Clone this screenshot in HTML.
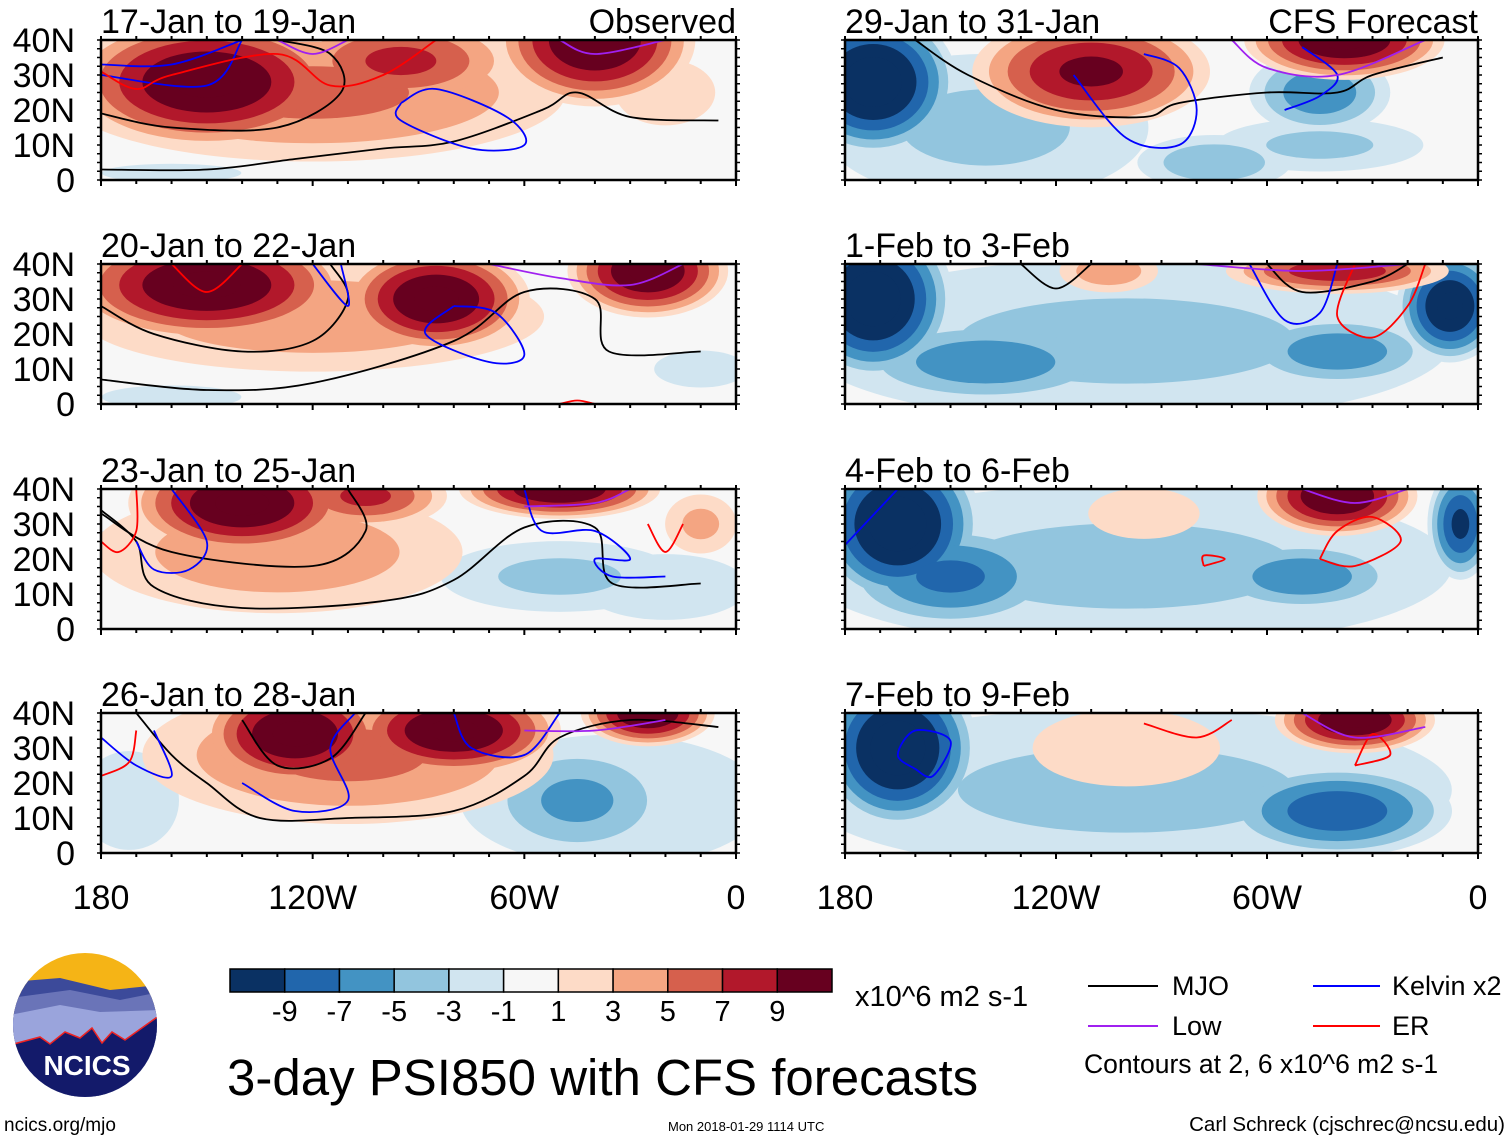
<!DOCTYPE html>
<html><head><meta charset="utf-8"><style>
body{margin:0;background:#fff;}
svg text{font-family:"Liberation Sans",sans-serif;fill:#000;}
</style></head><body>
<svg id="chart" width="1510" height="1141" viewBox="0 0 1510 1141" xmlns="http://www.w3.org/2000/svg">
<g id="panels"></g>
<g id="colorbar"></g>
<g>
<clipPath id="lc"><circle cx="85" cy="1025" r="72"/></clipPath>
<g clip-path="url(#lc)">
<rect x="10" y="950" width="150" height="150" fill="#f5b416"/>
<path d="M10 982 L60 978 L110 990 L160 985 L160 1100 L10 1100Z" fill="#3c4a9a"/>
<path d="M10 998 L70 990 L120 1000 L160 992 L160 1100 L10 1100Z" fill="#6a74b8"/>
<path d="M10 1015 L60 1005 L100 1012 L160 1010 L160 1100 L10 1100Z" fill="#9aa4dc"/>
<path d="M10 1045 L40 1037 L50 1044 L65 1032 L80 1038 L92 1028 L102 1043 L112 1032 L125 1040 L160 1015 L160 1100 L10 1100Z" fill="#131a6a" stroke="#e22" stroke-width="1.5"/>
</g>
<text x="87" y="1075" text-anchor="middle" font-size="28" font-weight="bold" style="fill:#fff">NCICS</text>
</g>
<text x="4" y="1131" font-size="19">ncics.org/mjo</text>
<text x="227" y="1095" font-size="51">3-day PSI850 with CFS forecasts</text>
<text x="855" y="1006" font-size="29">x10^6 m2 s-1</text>
<text x="668" y="1131" font-size="13">Mon 2018-01-29 1114 UTC</text>
<text x="1505" y="1131" font-size="20.5" text-anchor="end">Carl Schreck (cjschrec@ncsu.edu)</text>
<g>
<g><line x1="1088" y1="986" x2="1158" y2="986" stroke="#000" stroke-width="2"/><text x="1172" y="995" font-size="27">MJO</text></g>
<g><line x1="1088" y1="1026" x2="1158" y2="1026" stroke="#a020f0" stroke-width="2"/><text x="1172" y="1035" font-size="27">Low</text></g>
<g><line x1="1313" y1="986" x2="1380" y2="986" stroke="#0000ff" stroke-width="2"/><text x="1392" y="995" font-size="27">Kelvin x2</text></g>
<g><line x1="1313" y1="1026" x2="1380" y2="1026" stroke="#ff0000" stroke-width="2"/><text x="1392" y="1035" font-size="27">ER</text></g>
<text x="1084" y="1073" font-size="26.5">Contours at 2, 6 x10^6 m2 s-1</text>
</g>
</svg>
<script>
const colors=["#0a3163","#2166ac","#4393c3","#92c5de","#d1e5f0","#f7f7f7","#fddbc7","#f4a582","#d6604d","#b2182b","#67001f"];
const cbLabels=["-9","-7","-5","-3","-1","1","3","5","7","9"];
const panelTitles=["17-Jan to 19-Jan","20-Jan to 22-Jan","23-Jan to 25-Jan","26-Jan to 28-Jan","29-Jan to 31-Jan","1-Feb to 3-Feb","4-Feb to 6-Feb","7-Feb to 9-Feb"];
const latTicks=["0","10N","20N","30N","40N"];
const lonTicks=["180","120W","60W","0"];
// blobs: [lonWest, lat, rxDeg, ryDeg, peakValue]
const blobs0=[[120,25,80,22,6],[150,28,42,20,12],[95,34,35,14,8],[40,40,30,20,12],[70,20,12,7,-2],[20,25,18,12,3],[160,2,30,4,-2]];
const blobs1=[[120,25,75,18,5],[150,34,42,17,12],[85,30,28,16,12],[25,38,24,14,12],[160,2,30,5,-2],[10,10,20,8,-2]];
const blobs2=[[130,22,60,20,5],[140,36,34,16,12],[105,38,25,10,8],[50,40,30,9,12],[50,15,40,12,-4],[20,12,30,12,-3],[10,30,12,10,4],[178,25,6,5,-2]];
const blobs3=[[110,28,65,22,6],[125,34,28,16,12],[80,35,32,14,12],[25,40,20,10,12],[45,15,30,18,-6],[35,15,55,24,-3],[172,15,18,18,-3]];
const blobs4=[[140,15,55,25,-4],[172,28,25,22,-13],[110,31,36,17,10],[38,40,30,12,12],[45,25,22,13,-7],[75,5,25,9,-5],[45,10,35,9,-4]];
const blobs5=[[100,18,110,28,-4],[172,30,24,24,-13],[140,12,42,13,-7],[105,38,16,7,5],[40,38,34,7,9],[8,28,16,17,-12],[40,15,30,11,-7]];
const blobs6=[[100,18,110,28,-4],[165,30,25,24,-13],[150,15,34,16,-8],[95,33,24,11,2],[40,38,24,12,12],[50,15,30,11,-7],[5,30,10,17,-10]];
const blobs7=[[100,18,110,28,-4],[165,30,24,24,-13],[100,30,34,14,3],[35,38,24,10,12],[40,12,35,14,-9]];
// lines: [type, [[lonWest,lat],...]]
const lines0=[["mjo",[[180,19],[160,15],[130,15],[112,25],[115,36],[130,40]]],["mjo",[[180,3],[150,3],[125,6],[100,9],[80,11],[55,20],[45,25],[30,18],[5,17]]],["kel",[[180,33],[160,33],[140,40]]],["kel",[[180,30],[150,27],[140,40]]],["kel",[[95,22],[85,26],[65,18],[60,10],[75,9],[95,17],[95,22]]],["er",[[180,31],[170,26],[160,30],[130,36],[115,27],[100,30],[85,40]]],["low",[[130,40],[120,36],[110,40]]],["low",[[50,40],[40,36],[20,40]]]];
const lines1=[["mjo",[[180,28],[165,20],[140,15],[120,18],[110,30],[115,40]]],["mjo",[[180,7],[150,4],[120,6],[80,18],[60,32],[40,30],[36,15],[10,15]]],["kel",[[120,40],[110,28],[112,40]]],["kel",[[80,28],[68,26],[60,14],[70,12],[88,20],[80,28]]],["er",[[160,40],[150,32],[140,40]]],["low",[[70,40],[50,36],[30,34],[15,40]]],["er",[[50,0],[45,1],[40,0]]]];
const lines2=[["mjo",[[180,34],[170,25],[165,12],[140,6],[100,8],[80,14],[60,29],[40,29],[35,13],[10,13]]],["mjo",[[180,33],[160,22],[120,18],[105,28],[110,40]]],["kel",[[160,40],[150,25],[155,17],[165,17],[170,25]]],["kel",[[60,40],[55,28],[40,28],[30,20],[40,20],[35,15],[20,15]]],["er",[[180,25],[175,22],[170,28],[170,40]]],["er",[[25,30],[20,22],[15,30]]],["low",[[60,35],[40,36],[30,40]]]];
const lines3=[["mjo",[[170,40],[160,28],[150,20],[135,10],[110,10],[80,12],[60,22],[50,33],[30,38],[5,36]]],["mjo",[[140,38],[130,25],[115,27],[105,40]]],["kel",[[180,33],[170,25],[160,22],[165,35]]],["kel",[[140,20],[125,12],[110,15],[115,30],[108,40]]],["kel",[[80,40],[75,30],[60,28],[50,40]]],["er",[[180,22],[172,26],[170,35]]],["low",[[60,35],[40,35],[20,38]]]];
const lines4=[["mjo",[[160,40],[145,30],[120,20],[95,18],[85,22],[60,25],[40,25],[30,30],[10,35]]],["kel",[[115,30],[100,12],[85,10],[80,20],[85,32],[95,36]]],["kel",[[55,20],[45,24],[40,30],[50,38]]],["low",[[70,40],[60,32],[40,30],[15,40]]]];
const lines5=[["mjo",[[130,40],[120,33],[110,40]]],["mjo",[[60,40],[50,32],[30,35],[20,40]]],["kel",[[65,40],[55,24],[45,26],[40,40]]],["er",[[35,40],[40,25],[30,19],[20,28],[15,40]]],["low",[[80,40],[50,38],[20,40]]]];
const lines6=[["kel",[[180,24],[165,40]]],["er",[[45,20],[40,28],[30,32],[22,25],[35,18],[45,20]]],["er",[[78,18],[72,20],[78,21],[78,18]]],["low",[[50,40],[35,36],[20,40]]]];
const lines7=[["kel",[[160,24],[165,28],[160,35],[150,32],[155,22],[160,24]]],["er",[[35,25],[30,34],[25,28],[35,25]]],["er",[[95,37],[80,33],[70,38]]],["low",[[50,40],[35,33],[15,36]]]];
const allBlobs=[blobs0,blobs1,blobs2,blobs3,blobs4,blobs5,blobs6,blobs7];
const allLines=[lines0,lines1,lines2,lines3,lines4,lines5,lines6,lines7];

const NS="http://www.w3.org/2000/svg";
function mk(tag,attrs,parent){const e=document.createElementNS(NS,tag);for(const k in attrs)e.setAttribute(k,attrs[k]);parent.appendChild(e);return e;}
function smooth(pts){let d="M"+pts[0][0].toFixed(1)+" "+pts[0][1].toFixed(1);
  for(let i=0;i<pts.length-1;i++){const p0=pts[Math.max(0,i-1)],p1=pts[i],p2=pts[i+1],p3=pts[Math.min(pts.length-1,i+2)];
    const c1=[p1[0]+(p2[0]-p0[0])/6,p1[1]+(p2[1]-p0[1])/6],c2=[p2[0]-(p3[0]-p1[0])/6,p2[1]-(p3[1]-p1[1])/6];
    d+=" C"+c1.map(v=>v.toFixed(1)).join(" ")+" "+c2.map(v=>v.toFixed(1)).join(" ")+" "+p2[0].toFixed(1)+" "+p2[1].toFixed(1);}
  return d;}
const cols=[{x0:101,x1:736},{x0:845,x1:1478}];
const rowTop=[40,264,489,713],PH=140;
const lineCol={mjo:"#000",kel:"#0000ff",er:"#ff0000",low:"#a020f0"};
const panels=document.getElementById("panels");
for(let p=0;p<8;p++){
  const c=cols[p<4?0:1],top=rowTop[p%4];
  const xs=lon=>c.x0+(180-lon)/180*(c.x1-c.x0);
  const ys=lat=>top+PH-lat/40*PH;
  const sx=(c.x1-c.x0)/180,sy=PH/40;
  const g=mk("g",{},panels);
  
  
  mk("clipPath",{id:"cp"+p},g).appendChild(document.createElementNS(NS,"rect"));
  const cr=g.querySelector("clipPath rect");cr.setAttribute("x",c.x0);cr.setAttribute("y",top);cr.setAttribute("width",c.x1-c.x0);cr.setAttribute("height",PH);
  const inner=mk("g",{"clip-path":"url(#cp"+p+")"},g);
  mk("rect",{x:c.x0,y:top,width:c.x1-c.x0,height:PH,fill:colors[5]},inner);
  const bl=allBlobs[p];
  const layers=[];
  bl.forEach(b=>{const v=Math.abs(b[4]);[1,3,5,7,9,11].forEach((t,i)=>{if(t<v){const s=Math.pow(1-t/v,0.6);layers.push({b,t,i,s,neg:b[4]<0});}});});
  layers.sort((a,b)=>(a.neg===b.neg?a.t-b.t:(a.neg?-1:1)));
  layers.forEach(L=>{const b=L.b;const ci=L.neg?Math.max(0,4-L.i):Math.min(10,6+L.i);
    const e=mk("ellipse",{cx:xs(b[0]),cy:ys(b[1]),rx:b[2]*sx*L.s,ry:b[3]*sy*L.s,fill:colors[ci]},inner);
    
    });
  allLines[p].forEach(l=>{const d=smooth(l[1].map(q=>[xs(q[0]),ys(q[1])]));
    const pa=mk("path",{d,fill:"none",stroke:lineCol[l[0]],"stroke-width":1.8,"stroke-linejoin":"round"},inner);
    
    });
  mk("rect",{x:c.x0,y:top,width:c.x1-c.x0,height:PH,fill:"none",stroke:"#000","stroke-width":2.5},g);
  for(let lon=0;lon<=180;lon+=10){const x=xs(lon);const big=lon%60===0;mk("line",{x1:x,y1:top+PH,x2:x,y2:top+PH+(big?6:4),stroke:"#000","stroke-width":2},g);mk("line",{x1:x,y1:top,x2:x,y2:top-4,stroke:"#000","stroke-width":2},g);}
  for(let lat=0;lat<=40;lat+=2.5){const y=ys(lat);mk("line",{x1:c.x0,y1:y,x2:c.x0-4,y2:y,stroke:"#000","stroke-width":1.5},g);mk("line",{x1:c.x1,y1:y,x2:c.x1+4,y2:y,stroke:"#000","stroke-width":1.5},g);}
  const t=mk("text",{x:c.x0,y:top-7,"font-size":34},g);t.textContent=panelTitles[p];
  
  
  if(p===0||p===4){const t2=mk("text",{x:c.x1,y:top-7,"font-size":34,"text-anchor":"end"},g);t2.textContent=p===0?"Observed":"CFS Forecast";
    
    }
  if(p<4){latTicks.forEach((lt,i)=>{const tt=mk("text",{x:75,y:ys(i*10)+12,"font-size":34,"text-anchor":"end"},g);tt.textContent=lt;
    
    });}
  if(p%4===3){lonTicks.forEach((lt,i)=>{const tt=mk("text",{x:xs(180-i*60),y:909,"font-size":34,"text-anchor":"middle"},g);tt.textContent=lt;
    
    });}
}
const cb=document.getElementById("colorbar");
const cbx=230,cbw=602,cby=969,cbh=23,bw=cbw/colors.length;
colors.forEach((col,i)=>{const r=mk("rect",{x:cbx+i*bw,y:cby,width:bw,height:cbh,fill:col,stroke:"#000","stroke-width":1.5},cb);
  
  });
cbLabels.forEach((l,i)=>{const t=mk("text",{x:cbx+(i+1)*bw,y:1021,"font-size":29,"text-anchor":"middle"},cb);t.textContent=l;
  
  });
</script>
</body></html>
